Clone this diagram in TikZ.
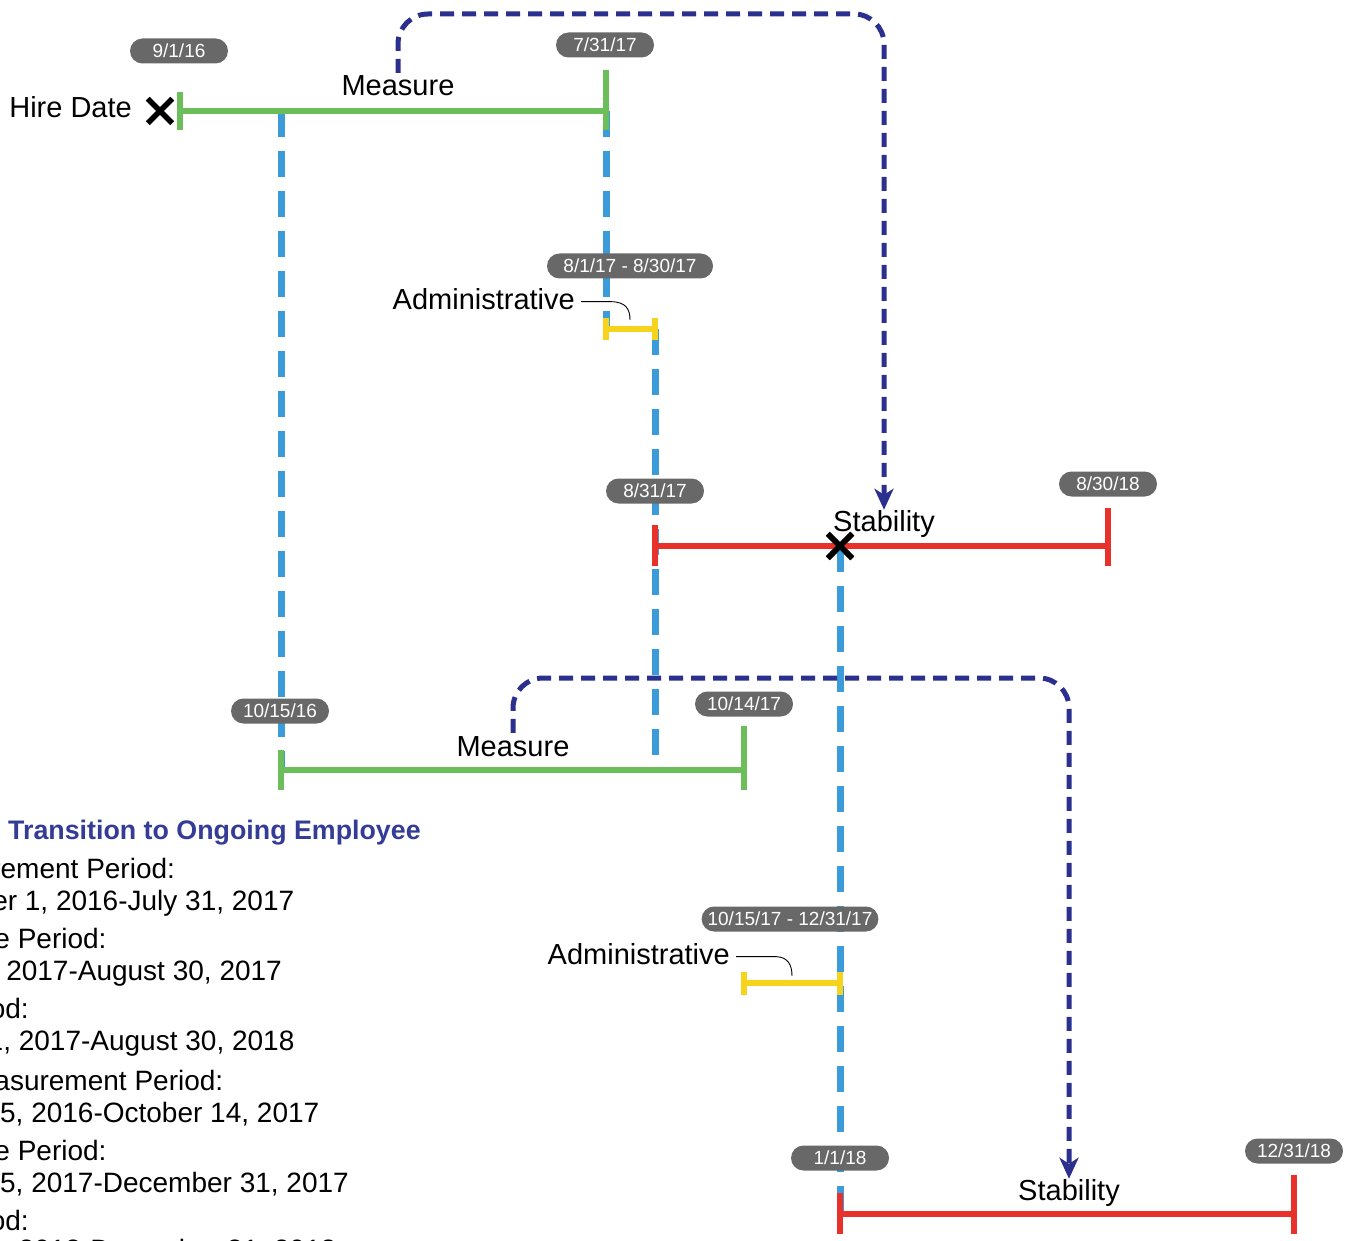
\documentclass[tikz,border=0pt]{standalone}
\usepackage{fontspec}
\setmainfont{Liberation Sans}
\usepackage{xcolor}
\definecolor{barGreen}{HTML}{6CBE5A}
\definecolor{barRed}{HTML}{E8312A}
\definecolor{barYellow}{HTML}{F7D31C}
\definecolor{linkBlue}{HTML}{3B9CD9}
\definecolor{jumpNavy}{HTML}{2B2F8E}
\definecolor{pillGray}{HTML}{686868}
\definecolor{titleBlue}{HTML}{343C96}
\usetikzlibrary{arrows.meta,shapes.misc}

\begin{document}
\begin{tikzpicture}[x=1pt, y=-1pt, >={Stealth[length=21pt,width=19pt,inset=6pt]},
    period/.style={line width=6.5pt},
    linkdash/.style={linkBlue, line width=7pt, dash pattern=on 26pt off 14pt},
    jump/.style={jumpNavy, line width=5pt, dash pattern=on 14pt off 8pt, rounded corners=30pt, ->},
    datepill/.style={fill=pillGray, text=white, rounded corners=12.5pt, minimum width=98pt,
      minimum height=25pt, inner xsep=8pt, font=\fontsize{19}{19}\selectfont},
    lbl/.style={font=\fontsize{29}{29}\selectfont, inner sep=3pt, anchor=base},
    legend/.style={font=\fontsize{28}{28}\selectfont, anchor=base west, inner sep=0pt},
    xmark/.style={cross out, draw=black, line width=5.5pt, minimum size=19pt, inner sep=0pt}]
  \useasboundingbox (0,0) rectangle (1352,1241);
  \clip (0,0) rectangle (1352,1241);

  % ---- period end points ----
  \coordinate (m1a) at (180,111);  \coordinate (m1b) at (606,111);   % measure 1
  \coordinate (a1a) at (606,329);  \coordinate (a1b) at (655,329);   % administrative 1
  \coordinate (s1a) at (655,546);  \coordinate (s1b) at (1108,546);  % stability 1
  \coordinate (m2a) at (281,770);  \coordinate (m2b) at (744,770);   % measure 2
  \coordinate (a2a) at (744,983);  \coordinate (a2b) at (840,983);   % administrative 2
  \coordinate (s2a) at (840,1214); \coordinate (s2b) at (1294,1214); % stability 2
  \coordinate (m1drop) at (281,111);

  % ---- light blue links between periods ----
  \node[xmark] (stabx) at (840,546) {};
  \draw[linkdash] (m1drop) -- (m2a);
  \draw[linkdash] (m1b) -- (a1a);
  \draw[linkdash] (a1b) -- (a1b |- m2a);
  \draw[linkdash] (stabx.center) -- (s2a);

  % ---- measure periods ----
  \draw[period, barGreen] (m1a) -- (m1b);
  \draw[period, barGreen] (m1a) ++(0,-19) -- ++(0,38);
  \draw[period, barGreen] (m1b) ++(0,-41) -- ++(0,60);
  \draw[period, barGreen] (m2a) -- (m2b);
  \draw[period, barGreen] (m2a) ++(0,-20) -- ++(0,40);
  \draw[period, barGreen] (m2b) ++(0,-44) -- ++(0,64);
  % ---- administrative periods ----
  \draw[period, barYellow] (a1a) -- (a1b);
  \draw[period, barYellow] (a1a) ++(0,-11) -- ++(0,22);
  \draw[period, barYellow] (a1b) ++(0,-11) -- ++(0,22);
  \draw[period, barYellow] (a2a) -- (a2b);
  \draw[period, barYellow] (a2a) ++(0,-11) -- ++(0,23);
  \draw[period, barYellow] (a2b) ++(0,-11) -- ++(0,23);
  % ---- stability periods ----
  \draw[period, barRed] (s1a) -- (s1b);
  \draw[period, barRed] (s1a) ++(0,-21) -- ++(0,41);
  \draw[period, barRed] (s1b) ++(0,-38) -- ++(0,58);
  \draw[period, barRed] (s2a) -- (s2b);
  \draw[period, barRed] (s2a) ++(0,-21) -- ++(0,41);
  \draw[period, barRed] (s2b) ++(0,-39) -- ++(0,59);

  % ---- dates ----
  \node[datepill] (d1) at (179,51) {9/1/16};
  \node[datepill] (d2) at (605,45) {7/31/17};
  \node[datepill, minimum width=166pt] (d3) at (630,266) {8/1/17 - 8/30/17};
  \node[datepill] (d4) at (655,491) {8/31/17};
  \node[datepill] (d5) at (1108,484) {8/30/18};
  \node[datepill] (d6) at (280,711) {10/15/16};
  \node[datepill] (d7) at (744,704) {10/14/17};
  \node[datepill, inner xsep=6pt] (d8) at (790,919) {10/15/17 - 12/31/17};
  \node[datepill] (d9) at (840,1158) {1/1/18};
  \node[datepill] (d10) at (1294,1151) {12/31/18};

  % ---- period labels ----
  \node[lbl, anchor=base east] (hire) at (135,118) {Hire Date};
  \node[xmark] (hirex) at (160,111) {};
  \node[xmark] at (stabx) {};
  \node[lbl] (meas1) at (398,96) {Measure};
  \node[lbl, anchor=base east] (adm1) at (578,310) {Administrative};
  \node[lbl] (stab1) at (884,531) {Stability};
  \node[lbl] (meas2) at (513,756) {Measure};
  \node[lbl, anchor=base east] (adm2) at (733,964) {Administrative};
  \node[lbl] (stab2) at (1069,1200) {Stability};
  % leaders from the administrative labels
  \draw[line width=0.9pt] (adm1.east) ++(3,2) -- ++(30,0) .. controls (626,302) and (630,309) .. (630,320);
  \draw[line width=0.9pt] (adm2.east) ++(3,3) -- ++(40,0) .. controls (788,957) and (792,965) .. (792,976);

  % ---- measure to stability jumps ----
  \coordinate (top1) at (0,14);
  \coordinate (top2) at (0,678);
  \draw[jump] (meas1.north) -- (meas1.north |- top1) -| ([yshift=-3pt]stab1.north);
  \draw[jump] (meas2.north) -- (meas2.north |- top2) -| ([yshift=-3pt]stab2.north);

  % ---- legend ----
  \node[legend, font=\fontsize{26.8}{28}\selectfont\bfseries, text=titleBlue] (leg0) at (8,839) {Transition to Ongoing Employee};
  \node[legend] (leg1) at (-166,878) {Initial Measurement Period:};
  \node[legend] (leg2) at (-120,910) {September 1, 2016-July 31, 2017};
  \node[legend] (leg3) at (-166,948) {Administrative Period:};
  \node[legend] (leg4) at (-120,980) {August 1, 2017-August 30, 2017};
  \node[legend] (leg5) at (-166,1018) {Stability Period:};
  \node[legend] (leg6) at (-123,1050) {August 31, 2017-August 30, 2018};
  \node[legend] (leg7) at (-166,1090) {Standard Measurement Period:};
  \node[legend] (leg8) at (-123,1122) {October 15, 2016-October 14, 2017};
  \node[legend] (leg9) at (-166,1160) {Administrative Period:};
  \node[legend] (leg10) at (-123,1192) {October 15, 2017-December 31, 2017};
  \node[legend] (leg11) at (-166,1230) {Stability Period:};
  \node[legend] (leg12) at (-120,1259) {January 1, 2018-December 31, 2018};
\end{tikzpicture}
\end{document}
